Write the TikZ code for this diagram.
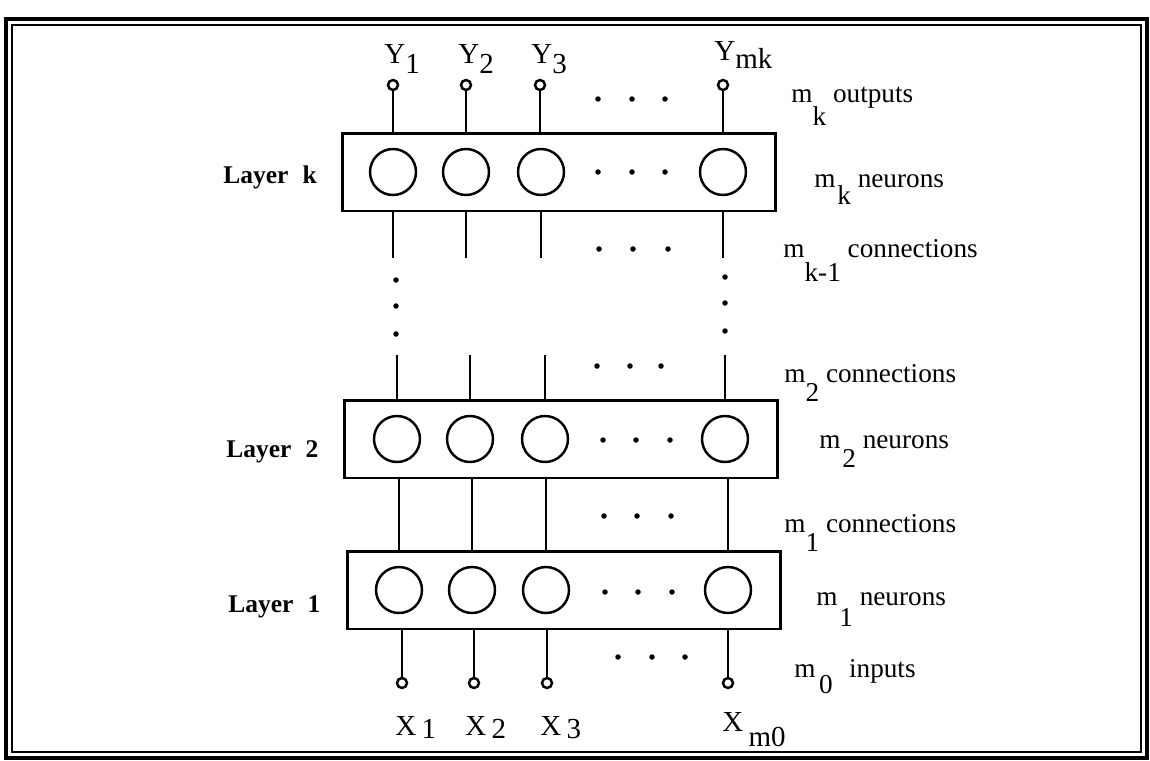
\documentclass[tikz,border=0pt]{standalone}
\usepackage{fontspec}
\setmainfont{Liberation Serif}
\usetikzlibrary{positioning}

% letter with a lowered index, as in m_k
\newcommand{\lsub}[3][0.7em]{#2\lower#1\hbox{#3}}

\begin{document}
\begin{tikzpicture}
[x=0.02cm, y=-0.02cm, line width=1.6pt,
layerbox/.style={rectangle, draw, line width=1.7pt, inner sep=0pt, minimum width=8.68cm, minimum height=1.56cm},
neuron/.style={circle, draw, line width=1.4pt, inner sep=0pt, minimum size=0.92cm},
pin/.style={circle, draw, line width=1.4pt, fill=white, inner sep=0pt, minimum size=0.2cm},
dotmark/.style={circle, fill, inner sep=0pt, minimum size=0.11cm},
layerlab/.style={font=\fontsize{14.5}{17}\selectfont\bfseries, anchor=base west, inner sep=0pt},
iolab/.style={font=\fontsize{16.5}{19}\selectfont, anchor=base west, inner sep=0pt},
countlab/.style={font=\fontsize{15.5}{18}\selectfont, anchor=base west, inner sep=0pt}]

\useasboundingbox (0,0) rectangle (1150,761);

% frame
\draw[line width=2pt] (6,19) rectangle (1147,758);
\draw[line width=1pt] (12,25) rectangle (1141,752);

% layer k
\node[layerbox] (boxk) at (559,172) {};
\node[neuron] (nk1) at (393,172) {};
\node[neuron] (nk2) at (466,172) {};
\node[neuron] (nk3) at (541,172) {};
\node[neuron] (nk4) at (723,172) {};
\node[dotmark] (dk1) at (598,172) {};
\node[dotmark] (dk2) at (632,172) {};
\node[dotmark] (dk3) at (665,172) {};

% layer 2
\node[layerbox] (box2) at (561,439) {};
\node[neuron] (n21) at (397,439) {};
\node[neuron] (n22) at (470,439) {};
\node[neuron] (n23) at (545,439) {};
\node[neuron] (n24) at (725,439) {};
\node[dotmark] (d21) at (603,440) {};
\node[dotmark] (d22) at (636,440) {};
\node[dotmark] (d23) at (670,440) {};

% layer 1
\node[layerbox] (box1) at (564,590) {};
\node[neuron] (n11) at (399,590) {};
\node[neuron] (n12) at (472,590) {};
\node[neuron] (n13) at (546,590) {};
\node[neuron] (n14) at (728,590) {};
\node[dotmark] (d11) at (605,592) {};
\node[dotmark] (d12) at (638,592) {};
\node[dotmark] (d13) at (672,592) {};

% outputs
\node[pin] (yp1) at (393,85) {};
\node[pin] (yp2) at (466,85) {};
\node[pin] (yp3) at (540,85) {};
\node[pin] (yp4) at (723,85) {};
\draw (boxk.north -| yp1) -- (yp1);
\draw (boxk.north -| yp2) -- (yp2);
\draw (boxk.north -| yp3) -- (yp3);
\draw (boxk.north -| yp4) -- (yp4);
\node[dotmark] (dy1) at (598,99) {};
\node[dotmark] (dy2) at (632,99) {};
\node[dotmark] (dy3) at (665,99) {};

\node[iolab] (ly1) at (383,63) {Y\lower6pt\hbox{1}};
\node[iolab] (ly2) at (457,63) {Y\lower6pt\hbox{2}};
\node[iolab] (ly3) at (530,63) {Y\lower6pt\hbox{3}};
\node[iolab] (ly4) at (713,60) {Y\lower5pt\hbox{mk}};

% connections between layer k and layer 2
\coordinate (cutk) at (0,258);
\coordinate (cut2) at (0,355);
\draw (boxk.south -| nk1) -- (cutk -| nk1);
\draw (boxk.south -| nk2) -- (cutk -| nk2);
\draw (boxk.south -| nk3) -- (cutk -| nk3);
\draw (boxk.south -| nk4) -- (cutk -| nk4);
\node[dotmark] (dc1) at (599,249) {};
\node[dotmark] (dc2) at (633,249) {};
\node[dotmark] (dc3) at (668,249) {};

\node[dotmark] (va1) at (396,280) {};
\node[dotmark] (va2) at (396,306) {};
\node[dotmark] (va3) at (396,334) {};
\node[dotmark] (vb1) at (725,277) {};
\node[dotmark] (vb2) at (725,303) {};
\node[dotmark] (vb3) at (725,331) {};

\draw (box2.north -| n21) -- (cut2 -| n21);
\draw (box2.north -| n22) -- (cut2 -| n22);
\draw (box2.north -| n23) -- (cut2 -| n23);
\draw (box2.north -| n24) -- (cut2 -| n24);
\node[dotmark] (de1) at (597,366) {};
\node[dotmark] (de2) at (630,366) {};
\node[dotmark] (de3) at (661,366) {};

% connections between layer 2 and layer 1
\draw (box2.south -| n11) -- (box1.north -| n11);
\draw (box2.south -| n12) -- (box1.north -| n12);
\draw (box2.south -| n13) -- (box1.north -| n13);
\draw (box2.south -| n14) -- (box1.north -| n14);
\node[dotmark] (df1) at (604,516) {};
\node[dotmark] (df2) at (637,516) {};
\node[dotmark] (df3) at (671,516) {};

% inputs
\node[pin] (xp1) at (402,683) {};
\node[pin] (xp2) at (474,683) {};
\node[pin] (xp3) at (547,683) {};
\node[pin] (xp4) at (728,683) {};
\draw (box1.south -| xp1) -- (xp1);
\draw (box1.south -| xp2) -- (xp2);
\draw (box1.south -| xp3) -- (xp3);
\draw (box1.south -| xp4) -- (xp4);
\node[dotmark] (dx1) at (618,657) {};
\node[dotmark] (dx2) at (652,657) {};
\node[dotmark] (dx3) at (685,657) {};

\node[iolab] (lx1) at (394,735) {X\kern3pt\lower2pt\hbox{1}};
\node[iolab] (lx2) at (464,735) {X\kern3pt\lower2pt\hbox{2}};
\node[iolab] (lx3) at (539,735) {X\kern3pt\lower2pt\hbox{3}};
\node[iolab] (lx4) at (721,731) {X\kern3pt\lower9pt\hbox{m0}};

% layer names
\node[layerlab] (lk) at (222,183) {Layer\hspace{0.55em}k};
\node[layerlab] (l2) at (225,457) {Layer\hspace{0.55em}2};
\node[layerlab] (l1) at (227,612) {Layer\hspace{0.55em}1};

% sizes on the right
\node[countlab] (ck) at (790,102) {\lsub[0.85em]{m}{k} outputs};
\node[countlab] (cnk) at (813,187) {\lsub[0.65em]{m}{\kern1pt k} neurons};
\node[countlab] (cck) at (782,257) {\lsub[0.9em]{m}{k-1} connections};
\node[countlab] (cc2) at (783,382) {\lsub{m}{2} connections};
\node[countlab] (cn2) at (818,448) {\lsub{m}{\kern1pt 2} neurons};
\node[countlab] (cc1) at (783,532) {\lsub{m}{1} connections};
\node[countlab] (cn1) at (815,605) {\lsub[0.8em]{m}{\kern1pt 1} neurons};
\node[countlab] (ci) at (793,677) {\lsub[0.6em]{m}{\kern2pt 0}\hspace{0.6em}inputs};

\end{tikzpicture}
\end{document}
